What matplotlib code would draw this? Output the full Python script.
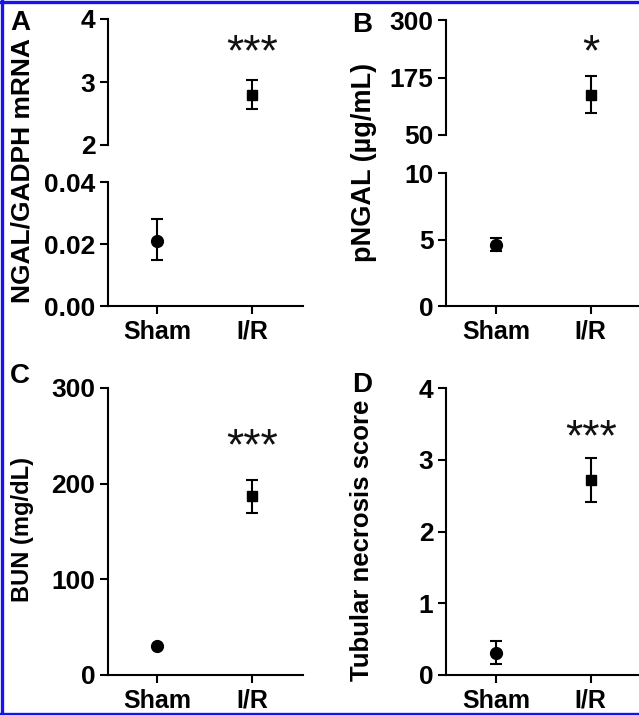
import matplotlib
matplotlib.use("Agg")
import matplotlib.pyplot as plt
from matplotlib.lines import Line2D
import matplotlib.transforms as mtransforms

plt.rcParams['font.family'] = ['Liberation Sans', 'DejaVu Sans']
plt.rcParams['font.weight'] = 'bold'

groups = ["Sham", "I/R"]

# Panel A: NGAL/GADPH mRNA (broken axis)
a_mean = [0.021, 2.80]
a_low = [0.015, 2.57]
a_high = [0.028, 3.03]
# Panel B: pNGAL (broken axis)
b_mean = [4.6, 138]
b_low = [4.1, 98]
b_high = [5.1, 179]
# Panel C: BUN
c_mean = [30, 187]
c_low = [30, 169]
c_high = [30, 204]
# Panel D: Tubular necrosis score
d_mean = [0.31, 2.72]
d_low = [0.15, 2.41]
d_high = [0.47, 3.03]

W, H = 639, 715
fig = plt.figure(figsize=(W / 100, H / 100), dpi=100)

LW = 1.5
TICK_FS = 19
XT_FS = 18
LAB_FS = 19.5

def px_axes(left, right, top, bottom):
    return fig.add_axes([left / W, 1 - bottom / H, (right - left) / W, (bottom - top) / H])

def style(ax, xaxis=True):
    for s in ['top', 'right']:
        ax.spines[s].set_visible(False)
    ax.spines['left'].set_linewidth(LW)
    ax.spines['bottom'].set_linewidth(LW)
    ax.tick_params(axis='y', direction='out', length=6, width=LW, labelsize=TICK_FS, pad=3)
    for lab in ax.get_yticklabels():
        lab.set_fontweight('bold')
    if xaxis:
        ax.tick_params(axis='x', direction='out', length=6, width=LW, labelsize=XT_FS, pad=4)
        ax.set_xticks([0, 1])
        ax.set_xticklabels(groups, fontweight='bold', fontsize=XT_FS)
    else:
        ax.spines['bottom'].set_visible(False)
        ax.set_xticks([])
    ax.patch.set_alpha(0)

def plot_point(ax, i, mean, low, high, marker, ms):
    ax.errorbar([i], [mean[i]], yerr=[[mean[i] - low[i]], [high[i] - mean[i]]],
                fmt=marker, color='black', ms=ms, elinewidth=LW, capsize=4.5,
                capthick=LW, clip_on=False, zorder=3)

def stars(ax, x, y, s, fs=32):
    off = mtransforms.offset_copy(ax.transData, fig=fig, x=0, y=-0.5 * fs, units='points')
    ax.text(x, y, s, transform=off, ha='center', va='baseline', fontsize=fs,
            fontweight='normal', color='#111111')

XL_LEFT = (-0.516, 1.537)

# ---------- Panel A ----------
axA_top = px_axes(108, 303, 19, 145)
axA_bot = px_axes(108, 303, 182, 306)
axA_top.set_ylim(2, 4)
axA_top.set_yticks([2, 3, 4])
axA_top.set_yticklabels(['2', '3', '4'])
axA_bot.set_ylim(0, 0.04)
axA_bot.set_yticks([0, 0.02, 0.04])
axA_bot.set_yticklabels(['0.00', '0.02', '0.04'])
for ax in (axA_top, axA_bot):
    ax.set_xlim(*XL_LEFT)
style(axA_top, xaxis=False)
style(axA_bot, xaxis=True)
plot_point(axA_bot, 0, a_mean, a_low, a_high, 'o', 8.5)
plot_point(axA_top, 1, a_mean, a_low, a_high, 's', 7.5)
stars(axA_top, 1, 3.62, '***')
fig.text(23 / W, 1 - 171 / H, 'NGAL/GADPH mRNA', rotation=90, ha='center', va='center',
         fontsize=19, fontweight='bold')
fig.text(10 / W, 1 - 30 / H, 'A', fontsize=20, fontweight='bold', ha='left', va='baseline')

# ---------- Panel B ----------
XL_RIGHT = (-0.526, 1.55)
axB_top = px_axes(446, 643, 20, 135)
axB_bot = px_axes(446, 643, 173, 306)
axB_top.set_ylim(50, 300)
axB_top.set_yticks([50, 175, 300])
axB_bot.set_ylim(0, 10)
axB_bot.set_yticks([0, 5, 10])
for ax in (axB_top, axB_bot):
    ax.set_xlim(*XL_RIGHT)
style(axB_top, xaxis=False)
style(axB_bot, xaxis=True)
plot_point(axB_bot, 0, b_mean, b_low, b_high, 'o', 8.5)
plot_point(axB_top, 1, b_mean, b_low, b_high, 's', 7.5)
stars(axB_top, 1, 250, '*')
fig.text(364 / W, 1 - 162 / H, 'pNGAL (\u00b5g/mL)', rotation=90, ha='center', va='center',
         fontsize=LAB_FS, fontweight='bold')
fig.text(352 / W, 1 - 32 / H, 'B', fontsize=20, fontweight='bold', ha='left', va='baseline')

# ---------- Panel C ----------
axC = px_axes(108, 303, 388, 675)
axC.set_ylim(0, 300)
axC.set_yticks([0, 100, 200, 300])
axC.set_xlim(*XL_LEFT)
style(axC)
plot_point(axC, 0, c_mean, c_low, c_high, 'o', 8.5)
plot_point(axC, 1, c_mean, c_low, c_high, 's', 7.5)
stars(axC, 1, 249, '***')
fig.text(23 / W, 1 - 530 / H, 'BUN (mg/dL)', rotation=90, ha='center', va='center',
         fontsize=17, fontweight='bold')
fig.text(10 / W, 1 - 383 / H, 'C', fontsize=20, fontweight='bold', ha='left', va='baseline')

# ---------- Panel D ----------
axD = px_axes(446, 643, 388, 675)
axD.set_ylim(0, 4)
axD.set_yticks([0, 1, 2, 3, 4])
axD.set_xlim(*XL_RIGHT)
style(axD)
plot_point(axD, 0, d_mean, d_low, d_high, 'o', 8.5)
plot_point(axD, 1, d_mean, d_low, d_high, 's', 7.5)
stars(axD, 1, 3.44, '***')
fig.text(362 / W, 1 - 540 / H, 'Tubular necrosis score', rotation=90, ha='center', va='center',
         fontsize=18.5, fontweight='bold')
fig.text(352 / W, 1 - 392 / H, 'D', fontsize=20, fontweight='bold', ha='left', va='baseline')

# Blue border (left, top, bottom)
blue = '#1414f0'
for xs, ys in [([1.5 / W, 1.5 / W], [0, 1]), ([0, 1], [1 - 1.5 / H, 1 - 1.5 / H]),
               ([0, 1], [1.5 / H, 1.5 / H])]:
    fig.add_artist(Line2D(xs, ys, color=blue, lw=2.4, transform=fig.transFigure))

fig.savefig('out.png', dpi=100)
